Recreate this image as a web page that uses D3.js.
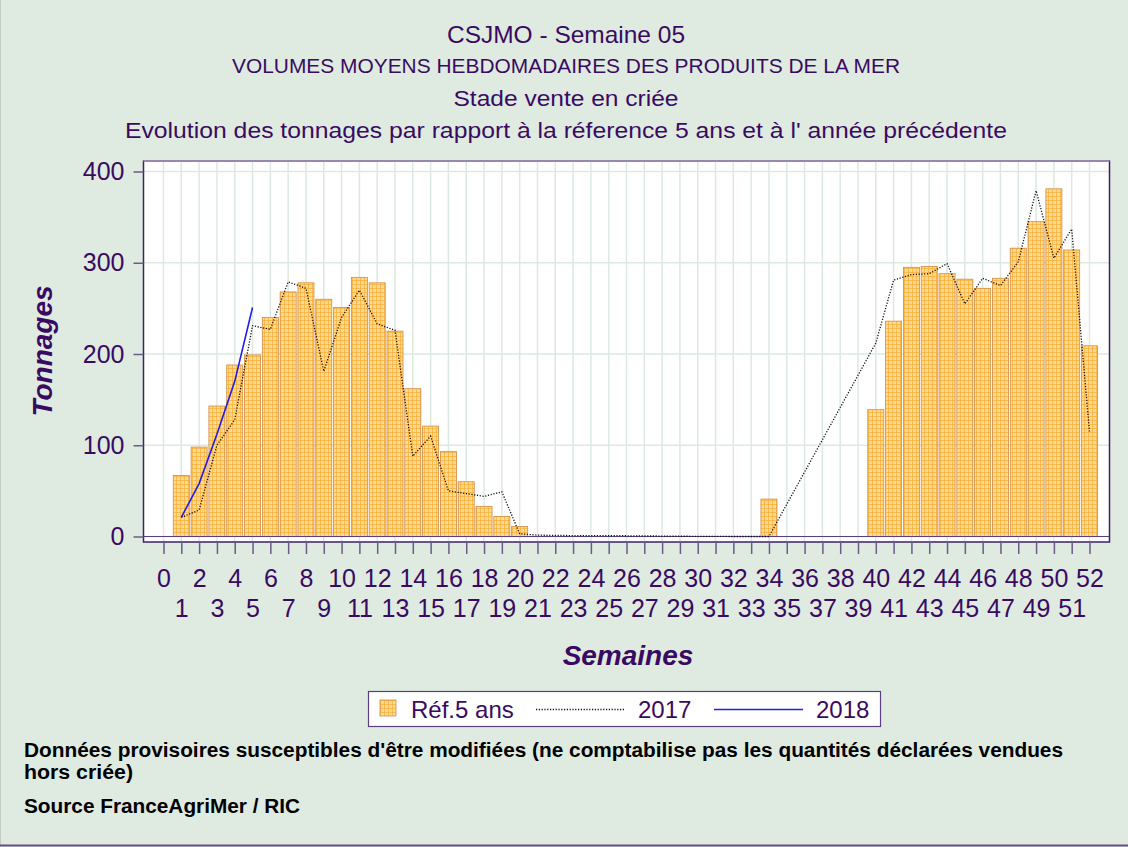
<!DOCTYPE html>
<html>
<head>
<meta charset="utf-8">
<script src="https://cdn.jsdelivr.net/npm/d3@7"></script>
<style>
    body { margin: 0; background: #dfebe1; }
    svg { display: block; font-family: "Liberation Sans", Arial, sans-serif; }
</style>
</head>
<body>
<script>
//chart data
var semaines = d3.range(1, 53);

//reference 5 years, tonnes per week (weeks 1..52)
var ref5ans = [67, 98, 143, 188, 199, 240, 268, 278, 260, 251, 284, 278, 225, 162, 121, 93, 60, 33, 22, 11,
    0, 0, 0, 0, 0, 0, 0, 0, 0, 0, 0, 0, 0,
    41,
    0, 0, 0, 0, 0,
    139, 236, 295, 296, 288, 282, 272, 283, 316, 345, 381, 314, 209];

//year 2017 (null = no value, line joins the neighbours)
var an2017 = [21, 29, 100, 128, 231, 227, 279, 272, 181, 240, 270, 233, 226, 88, 110, 50, 47, 44, 49, 3,
    1.5, 1.2, 1, 1, 1, 0.8, 0.6, 0.5, 0.3, 0.2, 0.1, 0, 0,
    0,
    null, null, null, null, null,
    212, 281, 287, 288, 299, 255, 283, 275, 301, 379, 305, 337, 115];

//year 2018, first weeks only
var an2018 = [21, 58, 112, 170, 251];

var yTicks = [0, 100, 200, 300, 400];
var xTicks = d3.range(0, 53);

var titres = [
    "CSJMO - Semaine 05",
    "VOLUMES MOYENS HEBDOMADAIRES DES PRODUITS DE LA MER",
    "Stade vente en criée",
    "Evolution des tonnages par rapport à la réference 5 ans et à l' année précédente"
];

var notes = [
    "Données provisoires susceptibles d'être modifiées (ne comptabilise pas les quantités déclarées vendues",
    "hors criée)",
    "Source FranceAgriMer / RIC"
];

var legende = ["Réf.5 ans", "2017", "2018"];

window.onload = drawChart();

function drawChart(){

    var width = 1128,
        height = 847;

    var ink = "#3a0a62";

    //plot frame
    var frame = {left: 143.5, right: 1109.5, top: 161, bottom: 542};

    var svg = d3.select("body")
        .append("svg")
        .attr("width", width)
        .attr("height", height);

    //page background and edges
    svg.append("rect")
        .attr("width", width)
        .attr("height", height)
        .attr("fill", "#dfebe1");
    svg.append("line")
        .attr("x1", 0.5).attr("x2", 0.5)
        .attr("y1", 0).attr("y2", height)
        .attr("stroke", "#c3cbc4");
    svg.append("line")
        .attr("x1", 0).attr("x2", width)
        .attr("y1", 845.5).attr("y2", 845.5)
        .attr("stroke", "#6b4c8f")
        .attr("stroke-width", 2);

    //scales
    var x = d3.scaleLinear()
        .domain([0, 52])
        .range([163.5, 1089.5]);

    var y = d3.scaleLinear()
        .domain([0, 400])
        .range([536.5, 171.5]);

    //hatched fill for the bars
    var defs = svg.append("defs");
    var pat = defs.append("pattern")
        .attr("id", "grille")
        .attr("patternUnits", "userSpaceOnUse")
        .attr("width", 4)
        .attr("height", 4);
    pat.append("rect")
        .attr("width", 4)
        .attr("height", 4)
        .attr("fill", "#ffd892");
    pat.append("path")
        .attr("d", "M0 0.5H4M0.5 0V4")
        .attr("stroke", "#f6a829")
        .attr("stroke-width", 0.6);

    //plot background
    svg.append("rect")
        .attr("x", frame.left)
        .attr("y", frame.top)
        .attr("width", frame.right - frame.left)
        .attr("height", frame.bottom - frame.top)
        .attr("fill", "#ffffff");

    //grid lines
    svg.append("g")
        .selectAll("line")
        .data(xTicks)
        .enter()
        .append("line")
        .attr("x1", function(d){ return x(d); })
        .attr("x2", function(d){ return x(d); })
        .attr("y1", frame.top)
        .attr("y2", frame.bottom)
        .attr("stroke", "#dde9e0")
        .attr("stroke-width", 1.5);

    svg.append("g")
        .selectAll("line")
        .data(yTicks)
        .enter()
        .append("line")
        .attr("x1", frame.left)
        .attr("x2", frame.right)
        .attr("y1", function(d){ return y(d); })
        .attr("y2", function(d){ return y(d); })
        .attr("stroke", "#dde9e0")
        .attr("stroke-width", 1.5);

    //bars of the 5 year reference
    var barW = 0.9 * (x(1) - x(0));
    svg.append("g")
        .selectAll("rect")
        .data(semaines)
        .enter()
        .filter(function(d, i){ return ref5ans[i] > 0; })
        .append("rect")
        .attr("x", function(d){ return x(d) - barW / 2; })
        .attr("width", barW)
        .attr("y", function(d){ return y(ref5ans[d - 1]); })
        .attr("height", function(d){ return y(0) - y(ref5ans[d - 1]); })
        .attr("fill", "url(#grille)")
        .attr("stroke", "#d08c45")
        .attr("stroke-width", 0.8);

    //zero reference line
    svg.append("line")
        .attr("x1", frame.left)
        .attr("x2", frame.right)
        .attr("y1", y(0))
        .attr("y2", y(0))
        .attr("stroke", "#5b3d82")
        .attr("stroke-width", 1);

    //lines
    var line = d3.line()
        .x(function(d){ return x(d.s); })
        .y(function(d){ return y(d.v); });

    var pts2017 = semaines
        .map(function(s, i){ return {s: s, v: an2017[i]}; })
        .filter(function(d){ return d.v != null; });

    svg.append("path")
        .datum(pts2017)
        .attr("d", line)
        .attr("fill", "none")
        .attr("stroke", "#111111")
        .attr("stroke-width", 1.3)
        .attr("stroke-dasharray", "1.2,1.6");

    var pts2018 = an2018.map(function(v, i){ return {s: semaines[i], v: v}; });

    svg.append("path")
        .datum(pts2018)
        .attr("d", line)
        .attr("fill", "none")
        .attr("stroke", "#1f1fe6")
        .attr("stroke-width", 1.6);

    //frame
    svg.append("rect")
        .attr("x", frame.left)
        .attr("y", frame.top)
        .attr("width", frame.right - frame.left)
        .attr("height", frame.bottom - frame.top)
        .attr("fill", "none")
        .attr("stroke", "#3f1f6a")
        .attr("stroke-width", 1.5);
    svg.append("line")
        .attr("x1", frame.left)
        .attr("x2", frame.right)
        .attr("y1", frame.top)
        .attr("y2", frame.top)
        .attr("stroke", "#a898c0")
        .attr("stroke-width", 1.5);

    //y axis
    var yAxis = svg.append("g")
        .attr("transform", "translate(" + frame.left + ",0)")
        .call(d3.axisLeft(y).tickValues(yTicks).tickSize(10).tickPadding(9));
    yAxis.select(".domain").remove();
    yAxis.selectAll("line").attr("stroke", "#6b5a8a").attr("stroke-width", 1.5);
    yAxis.selectAll("text")
        .attr("fill", ink)
        .style("font-size", "25px")
        .style("font-family", "Liberation Sans, Arial, sans-serif");

    //x axis, labels on two rows
    var xAxis = svg.append("g")
        .attr("transform", "translate(0," + frame.bottom + ")")
        .call(d3.axisBottom(x).tickValues(xTicks).tickSize(12));
    xAxis.select(".domain").remove();
    xAxis.selectAll("line").attr("stroke", "#6b5a8a").attr("stroke-width", 1.5);
    xAxis.selectAll("text")
        .attr("y", function(d){ return d % 2 ? 57 : 27; })
        .attr("fill", ink)
        .style("font-size", "25px")
        .style("font-family", "Liberation Sans, Arial, sans-serif");

    //axis titles
    svg.append("text")
        .attr("x", 628)
        .attr("y", 665)
        .attr("text-anchor", "middle")
        .attr("fill", ink)
        .style("font-size", "28px")
        .style("font-weight", "bold")
        .style("font-style", "italic")
        .text("Semaines");

    svg.append("text")
        .attr("transform", "translate(52,351) rotate(-90)")
        .attr("text-anchor", "middle")
        .attr("fill", ink)
        .style("font-size", "28px")
        .style("font-weight", "bold")
        .style("font-style", "italic")
        .text("Tonnages");

    //titles
    var titleY = [43, 73, 106, 138],
        titleSize = [24, 21, 22, 22],
        titleLen = [238, 668, 225, 882];
    svg.append("g")
        .selectAll("text")
        .data(titres)
        .enter()
        .append("text")
        .attr("x", 566)
        .attr("y", function(d, i){ return titleY[i]; })
        .attr("text-anchor", "middle")
        .attr("fill", ink)
        .attr("textLength", function(d, i){ return titleLen[i]; })
        .attr("lengthAdjust", "spacingAndGlyphs")
        .style("font-size", function(d, i){ return titleSize[i] + "px"; })
        .text(function(d){ return d; });

    //legend
    var leg = svg.append("g");
    leg.append("rect")
        .attr("x", 368.5)
        .attr("y", 691.5)
        .attr("width", 512)
        .attr("height", 35)
        .attr("fill", "#ffffff")
        .attr("stroke", "#5b3d82")
        .attr("stroke-width", 1.2);
    leg.append("rect")
        .attr("x", 380)
        .attr("y", 700)
        .attr("width", 16)
        .attr("height", 16)
        .attr("fill", "url(#grille)")
        .attr("stroke", "#d08c45")
        .attr("stroke-width", 0.8);
    leg.append("line")
        .attr("x1", 536).attr("x2", 625)
        .attr("y1", 709.5).attr("y2", 709.5)
        .attr("stroke", "#111111")
        .attr("stroke-width", 1.3)
        .attr("stroke-dasharray", "1.2,1.6");
    leg.append("line")
        .attr("x1", 714).attr("x2", 803)
        .attr("y1", 709.5).attr("y2", 709.5)
        .attr("stroke", "#1f1fe6")
        .attr("stroke-width", 1.6);
    var legX = [411, 638, 816];
    leg.selectAll("text")
        .data(legende)
        .enter()
        .append("text")
        .attr("x", function(d, i){ return legX[i]; })
        .attr("y", 718)
        .attr("fill", ink)
        .style("font-size", "24px")
        .text(function(d){ return d; });

    //footnotes
    var noteY = [757, 779, 813],
        noteLen = [1039, 109, 276];
    svg.append("g")
        .selectAll("text")
        .data(notes)
        .enter()
        .append("text")
        .attr("x", 24)
        .attr("y", function(d, i){ return noteY[i]; })
        .attr("fill", "#000000")
        .attr("textLength", function(d, i){ return noteLen[i]; })
        .attr("lengthAdjust", "spacingAndGlyphs")
        .style("font-size", "20px")
        .style("font-weight", "bold")
        .text(function(d){ return d; });
}
</script>
</body>
</html>
